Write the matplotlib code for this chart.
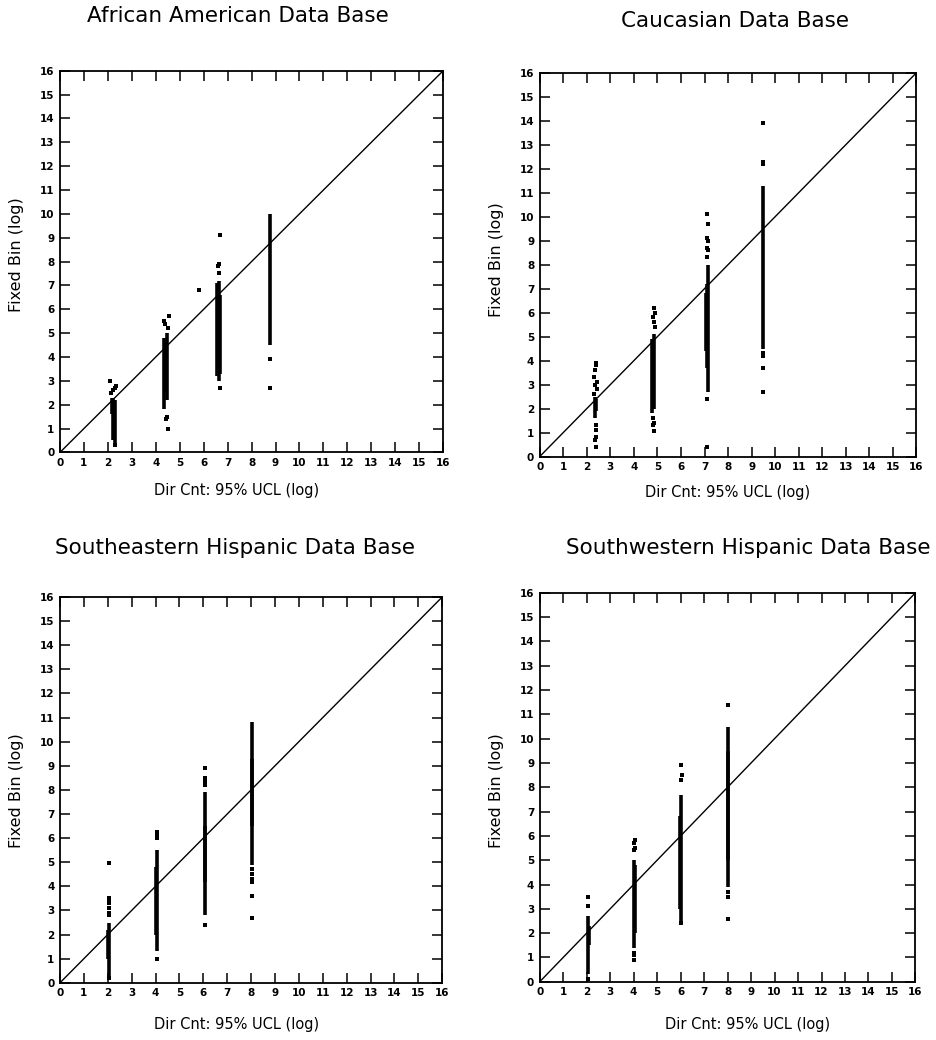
"""
Fixed Bin vs Dir Cnt 95% UCL (log) - four data bases
"""
import matplotlib
matplotlib.use('Agg')
import matplotlib.pyplot as plt

plt.rcParams['font.family'] = ['DejaVu Sans']

# --- titles / labels ---
TITLES = ['African American Data Base', 'Caucasian Data Base',
          'Southeastern Hispanic Data Base', 'Southwestern Hispanic Data Base']
XLABEL = 'Dir Cnt: 95% UCL (log)'
YLABEL = 'Fixed Bin (log)'
TICKS = list(range(0, 17))

# --- dense parts of each column: (x, low, high) ---
AA_CORE = [(2.22, 0.5, 2.3), (2.30, 0.3, 2.2), (2.18, 1.6, 2.3),
           (4.35, 1.8, 4.8), (4.45, 2.2, 5.0), (4.40, 2.5, 4.6),
           (6.55, 3.2, 7.1), (6.65, 3.0, 7.2), (6.60, 3.6, 6.8), (6.70, 3.3, 6.6),
           (8.78, 4.5, 10.0)]
AA_PTS = [(2.10, 3.0), (2.35, 2.8), (2.30, 2.7), (2.20, 2.6), (2.15, 2.5), (2.28, 0.3),
          (4.55, 5.7), (4.35, 5.5), (4.40, 5.4), (4.50, 5.2), (4.45, 1.5), (4.42, 1.4),
          (4.50, 1.0), (6.70, 9.1), (6.62, 7.9), (6.58, 7.8), (6.65, 7.5), (6.70, 2.7),
          (5.80, 6.8), (8.75, 3.9), (8.75, 2.7)]

CA_CORE = [(2.35, 1.6, 2.5), (2.40, 1.9, 2.4),
           (4.75, 1.8, 4.9), (4.85, 2.0, 5.1), (4.80, 2.8, 4.6),
           (7.10, 3.7, 7.2), (7.15, 2.7, 8.0), (7.05, 4.4, 6.8),
           (9.50, 4.5, 11.3)]
CA_PTS = [(2.40, 3.9), (2.40, 3.8), (2.35, 3.6), (2.30, 3.3), (2.45, 3.1), (2.35, 3.0),
          (2.45, 2.8), (2.30, 2.6), (2.40, 1.3), (2.38, 1.1), (2.40, 0.8), (2.35, 0.7),
          (2.40, 0.4), (4.85, 6.2), (4.90, 6.0), (4.80, 5.8), (4.85, 5.6), (4.90, 5.4),
          (4.80, 1.6), (4.85, 1.4), (4.82, 1.3), (4.85, 1.05),
          (7.10, 10.1), (7.15, 9.7), (7.10, 9.1), (7.15, 9.0), (7.12, 8.7), (7.15, 8.6),
          (7.10, 8.3), (7.10, 2.4), (7.12, 0.4),
          (9.50, 13.9), (9.50, 12.3), (9.50, 12.2), (9.48, 4.3), (9.50, 4.2),
          (9.50, 3.7), (9.50, 2.7)]

SE_CORE = [(2.05, 0.3, 2.5), (2.02, 1.0, 2.2),
           (4.05, 1.3, 5.5), (4.02, 2.0, 4.8),
           (6.05, 2.8, 7.9), (6.08, 4.2, 6.5),
           (8.05, 4.9, 10.8), (8.02, 6.5, 9.3)]
SE_PTS = [(2.05, 4.95), (2.05, 3.5), (2.05, 3.4), (2.05, 3.3), (2.05, 3.1), (2.05, 2.9),
          (2.05, 2.8), (2.05, 0.2), (4.05, 6.25), (4.05, 6.1), (4.05, 6.0), (4.05, 1.0),
          (6.05, 8.9), (6.05, 8.5), (6.05, 8.4), (6.05, 8.3), (6.05, 8.2), (6.05, 2.4),
          (8.05, 4.7), (8.05, 4.5), (8.05, 4.3), (8.05, 4.2), (8.05, 3.6), (8.05, 2.7)]

SW_CORE = [(2.05, 0.3, 2.7), (2.08, 1.5, 2.3),
           (4.00, 1.4, 5.0), (4.04, 2.0, 4.8),
           (6.00, 2.5, 7.7), (5.97, 3.0, 6.8),
           (8.00, 3.9, 10.5), (8.03, 5.0, 9.5)]
SW_PTS = [(2.05, 3.5), (2.05, 3.1), (2.05, 0.1), (4.05, 5.85), (4.00, 5.7), (4.05, 5.5),
          (4.00, 5.4), (4.00, 1.2), (4.02, 1.1), (4.00, 0.9), (6.00, 8.9), (6.05, 8.5),
          (6.00, 8.3), (6.00, 2.4), (8.00, 11.4), (8.00, 3.7), (8.00, 3.5), (8.00, 2.6)]

CORES = [AA_CORE, CA_CORE, SE_CORE, SW_CORE]
POINTS = [AA_PTS, CA_PTS, SE_PTS, SW_PTS]

# axes rectangles (left, bottom, width, height) in figure fraction
AX_POS = [(0.064, 0.565, 0.409, 0.367), (0.576, 0.561, 0.402, 0.369),
          (0.064, 0.055, 0.408, 0.371), (0.576, 0.056, 0.401, 0.374)]
TITLE_XY = [(0.254, 0.985), (0.784, 0.980), (0.251, 0.473), (0.799, 0.473)]
XLAB_XY = [(0.252, 0.528), (0.776, 0.526), (0.252, 0.015), (0.798, 0.015)]
YLAB_XY = [(0.018, 0.755), (0.530, 0.750), (0.018, 0.240), (0.530, 0.240)]


def draw_panel(ax, core, pts):
    ax.plot([0, 16], [0, 16], color='black', linewidth=1.0, zorder=1)
    for x, lo, hi in core:
        ax.vlines(x, lo, hi, color='black', linewidth=2.6, zorder=2)
    xs = [p[0] for p in pts]
    ys = [p[1] for p in pts]
    ax.scatter(xs, ys, s=6, color='black', marker='s', linewidths=0, zorder=3)

    ax.set_xlim(0, 16)
    ax.set_ylim(0, 16)
    ax.set_xticks(TICKS)
    ax.set_yticks(TICKS)
    ax.tick_params(direction='in', length=7, width=1.1, top=True, right=True,
                   labelsize=7.5, pad=4)
    for lab in ax.get_xticklabels() + ax.get_yticklabels():
        lab.set_fontweight('bold')
    for sp in ax.spines.values():
        sp.set_linewidth(1.3)


def main():
    fig = plt.figure(figsize=(9.37, 10.4), dpi=100)
    fig.patch.set_facecolor('white')

    for i in range(4):
        ax = fig.add_axes(AX_POS[i])
        draw_panel(ax, CORES[i], POINTS[i])
        fig.text(*TITLE_XY[i], TITLES[i], ha='center', va='center', fontsize=15.5)
        fig.text(*XLAB_XY[i], XLABEL, ha='center', va='center', fontsize=10.5)
        fig.text(*YLAB_XY[i], YLABEL, ha='center', va='center', fontsize=11.5,
                 rotation=90)

    plt.savefig('out.png', dpi=100, facecolor='white')
    plt.close()


if __name__ == "__main__":
    main()
